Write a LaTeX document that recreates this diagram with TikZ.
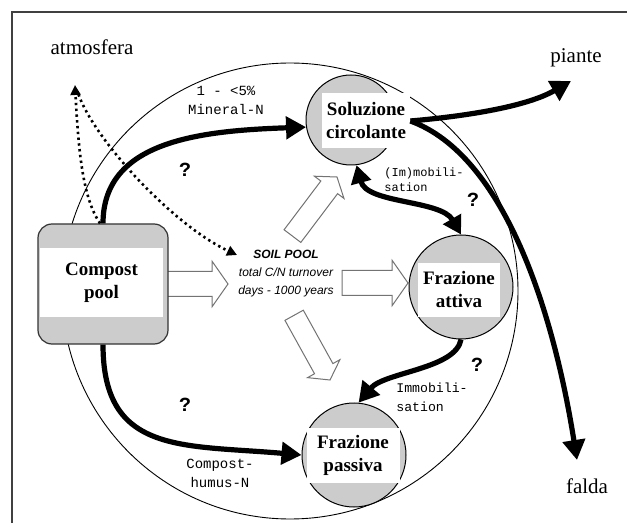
\documentclass[tikz,border=0pt]{standalone}
\usepackage{fontspec}
\setmainfont{Liberation Serif}
\setsansfont{Liberation Sans}
\setmonofont{Liberation Mono}
\usepackage{tikz}
\usetikzlibrary{arrows.meta,positioning,shapes.arrows}
\tikzset{
  borderline/.style={draw=black!75, line width=1pt},
  soilring/.style={draw, circle, line width=0.45pt, minimum size=228pt, inner sep=0pt},
  compostbox/.style={draw=black!80, rounded corners=7pt, fill=black!20, line width=0.6pt, minimum width=65pt, minimum height=60pt},
  pool/.style={draw, circle, fill=black!20, line width=0.5pt, inner sep=0pt},
  poolname/.style={fill=white, inner sep=0pt, align=center, font={\fontsize{9.5}{11.5}\selectfont\bfseries}},
  sitename/.style={font={\fontsize{10.5}{12}\selectfont}, inner sep=1pt},
  pooltext/.style={align=center, inner sep=0pt, font={\sffamily\itshape\fontsize{6}{9}\selectfont}},
  note/.style={align=center, inner sep=1pt, font={\ttfamily\fontsize{7}{9.5}\selectfont}},
  query/.style={inner sep=0pt, font={\ttfamily\bfseries\fontsize{10}{10}\selectfont}},
  widearrow/.style={single arrow, draw=black!55, fill=white, line width=0.5pt, inner xsep=0pt, inner ysep=6pt, outer sep=0pt, single arrow head extend=5pt, single arrow tip angle=110},
  slimarrow/.style={widearrow, inner ysep=5pt, single arrow head extend=4pt, minimum height=37pt},
  flow/.style={line width=2.6pt, -{Triangle[length=10pt,width=11pt]}},
  twoway/.style={line width=2.6pt, {Triangle[length=9pt,width=10pt]}-{Triangle[length=9pt,width=10pt]}},
  gas/.style={line width=1.3pt, dash pattern=on 1.2pt off 1.7pt, -{Triangle[length=5pt,width=5pt]}},
}
\begin{document}
\begin{tikzpicture}[x=0.5pt, y=0.5pt]
  \useasboundingbox (0,0) rectangle (627,531);
  \draw[borderline] (12,8) -- (12,519) -- (627,519);
  \node[soilring] (soil) at (290,240) {};

  \node[widearrow, minimum height=30.5pt, anchor=tip] (feed) at (228,247) {};
  \node[widearrow, minimum height=33pt, anchor=tip] (toatt) at (408,248) {};
  \node[slimarrow, rotate=53, anchor=tip] (tosol) at (337,354) {};
  \node[slimarrow, rotate=-61, anchor=tip] (topas) at (330,151) {};

  \node[compostbox] (comp) at (103,247) {};
  \node[poolname, minimum width=61.5pt, minimum height=34.5pt] (comptxt) at (101.5,248.5) {Compost\\pool};

  \node[pool, minimum size=45pt] (sol) at (351,411) {};
  \node[poolname, minimum width=44pt, minimum height=27.5pt] (soltxt) at (366,410) {Soluzione\\circolante};
  \node[pool, minimum size=52pt] (att) at (461,244) {};
  \node[poolname, minimum width=41pt, minimum height=27pt] (atttxt) at (459,241) {Frazione\\attiva};
  \node[pool, minimum size=52pt] (pas) at (354,76) {};
  \node[poolname, minimum width=46.5pt, minimum height=27.5pt] (pastxt) at (353,76) {Frazione\\passiva};

  \node[pooltext] (soilpool) at (286,257) {\textbf{SOIL POOL}\\total C/N turnover\\days - 1000 years};

  \node[sitename] (atm) at (92,484) {atmosfera};
  \node[sitename] (pia) at (576,473) {piante};
  \node[sitename] (fal) at (587,45) {falda};

  \node[note] (minlab) at (226,431) {1 - <5\%\\Mineral-N};
  \node[note, align=left, font={\ttfamily\fontsize{6}{7.5}\selectfont}] (mobilab) at (424,351) {(Im)mobili-\\sation};
  \node[note, align=left, font={\ttfamily\fontsize{6.6}{9.5}\selectfont}] (immlab) at (432,134) {Immobili-\\sation};
  \node[note] (humlab) at (220,58) {Compost-\\humus-N};
  \node[query] (q1) at (185,361) {?};
  \node[query] (q2) at (473,331) {?};
  \node[query] (q3) at (477,166) {?};
  \node[query] (q4) at (185,126) {?};

  \coordinate (atmtip) at (75,446);
  \coordinate (pooltip) at (237,276);
  \coordinate (piatip) at (571,450);
  \coordinate (faltip) at (577,71);

  \draw[flow] (comp.north) .. controls +(90:83) and +(182:105) .. (sol.189);
  \draw[flow] (comp.south) .. controls +(-90:110) and +(175:120) .. (pas.west);
  \draw[flow] (soltxt.east) .. controls +(5:60) and +(210:50) .. (piatip);
  \draw[flow] (soltxt.east) .. controls +(-20:100) and +(99:150) .. (faltip);
  \draw[twoway] (sol.-83) .. controls +(-75:40) and +(120:40) .. (att.north);
  \draw[flow] (att.south) .. controls +(-100:30) and +(50:40) .. (pas.85);

  \draw[gas] ([xshift=-1.5pt]comp.north) .. controls +(124:30) and +(-87:70) .. (atmtip);
  \draw[gas, shorten <=5pt] (atmtip) .. controls +(-70:60) and +(155:70) .. (pooltip);
\end{tikzpicture}
\end{document}
